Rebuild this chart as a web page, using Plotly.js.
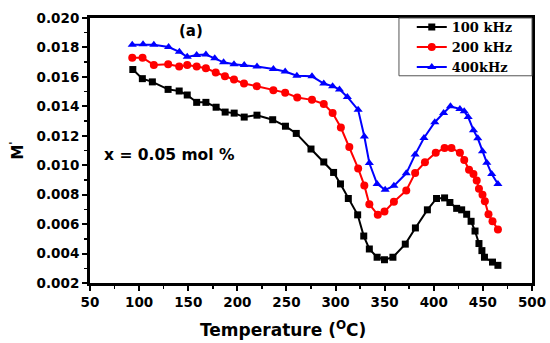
<!DOCTYPE html>
<html>
<head>
<meta charset="utf-8">
<script src="https://cdn.plot.ly/plotly-3.0.1.min.js"></script>
<style>html,body{margin:0;padding:0;background:#fff;}#chart{width:550px;height:343px;}</style>
</head>
<body>
<div id="chart"></div>
<script>
// Temperature (°C) and M' values
const temp100 = [93.6, 103.3, 113.5, 129.5, 140.8, 149, 158.6, 168, 178.4, 187.6, 196.8, 207, 220, 236, 249, 260, 275, 288, 298, 305, 313, 322.5, 328.7, 334.4, 342.3, 349.8, 358.4, 371, 381.3, 393.5, 402.8, 411, 416.4, 423.3, 428.4, 433.5, 438, 442, 446, 449, 451.6, 459.8, 465.3];
const m100 = [0.01650, 0.01588, 0.01566, 0.01515, 0.01504, 0.01477, 0.01427, 0.01427, 0.01394, 0.01361, 0.01354, 0.01327, 0.01340, 0.01309, 0.01265, 0.01216, 0.01110, 0.01022, 0.00951, 0.00873, 0.00774, 0.00663, 0.00519, 0.00431, 0.00375, 0.00358, 0.00375, 0.00464, 0.00574, 0.00697, 0.00774, 0.00778, 0.00747, 0.00707, 0.00697, 0.00667, 0.00619, 0.00553, 0.00468, 0.00420, 0.00375, 0.00342, 0.00320];

const temp200 = [93, 103.5, 115, 129.6, 140.8, 149, 158.6, 168, 178, 187.4, 196.6, 206.8, 219.8, 236.7, 248.7, 261, 276, 288, 297, 305.4, 314, 323, 329.3, 334.4, 343, 349.8, 359.4, 372, 381, 391, 402, 411, 418, 426.6, 431, 435.9, 440.4, 443.7, 446, 449.6, 452, 455.7, 459.8, 465.3];
const m200 = [0.01730, 0.01730, 0.01681, 0.01686, 0.01670, 0.01681, 0.01670, 0.01659, 0.01630, 0.01604, 0.01582, 0.01555, 0.01537, 0.01509, 0.01493, 0.01460, 0.01444, 0.01416, 0.01354, 0.01256, 0.01124, 0.00978, 0.00863, 0.00735, 0.00663, 0.00685, 0.00752, 0.00829, 0.00947, 0.01020, 0.01084, 0.01117, 0.01117, 0.01084, 0.01035, 0.00969, 0.00940, 0.00896, 0.00840, 0.00800, 0.00756, 0.00667, 0.00619, 0.00564];

const temp400 = [93, 104, 115, 130, 141, 149, 158.6, 168, 177, 186, 196.6, 207, 220, 236.7, 248.7, 260.6, 276, 288, 297, 304, 312, 323, 329.3, 334.4, 342.3, 350.5, 359.4, 372, 381, 390, 401, 410, 417, 426.6, 431, 435, 440.4, 444.8, 449.6, 454, 459, 465.3];
const m400 = [0.01819, 0.01821, 0.01819, 0.01803, 0.01770, 0.01736, 0.01748, 0.01752, 0.01726, 0.01699, 0.01686, 0.01681, 0.01670, 0.01653, 0.01637, 0.01608, 0.01604, 0.01555, 0.01537, 0.01515, 0.01464, 0.01376, 0.01195, 0.01015, 0.00873, 0.00833, 0.00860, 0.00945, 0.01072, 0.01185, 0.01292, 0.01355, 0.01400, 0.01382, 0.01367, 0.01327, 0.01238, 0.01183, 0.01095, 0.01017, 0.00940, 0.00873];

const seriesNames = ['100 kHz', '200 kHz', '400kHz'];
const seriesColors = ['#000000', '#ff0000', '#0000ff'];
const seriesSymbols = ['square', 'circle', 'triangle-up'];
const xTicks = [50, 100, 150, 200, 250, 300, 350, 400, 450, 500];
const yTicks = [0.002, 0.004, 0.006, 0.008, 0.010, 0.012, 0.014, 0.016, 0.018, 0.020];

const xs = [temp100, temp200, temp400];
const ys = [m100, m200, m400];
const sizes = [7, 8, 8];

const traces = xs.map((x, i) => ({
  x: x, y: ys[i], name: seriesNames[i], type: 'scatter', mode: 'lines+markers',
  line: {color: seriesColors[i], width: 2},
  marker: {color: seriesColors[i], symbol: seriesSymbols[i], size: sizes[i]}
}));

const SANS = 'DejaVu Sans, Verdana, sans-serif';
const tickFont = {family: SANS, size: 13.5, color: '#000', weight: 'bold'};

const layout = {
  width: 550, height: 343,
  margin: {l: 90, r: 18, t: 12, b: 60},
  paper_bgcolor: '#fff', plot_bgcolor: '#fff',
  showlegend: true,
  legend: {
    x: 0.728, y: 1.022, xanchor: 'left', yanchor: 'top',
    bgcolor: 'rgba(0,0,0,0)', borderwidth: 0,
    font: {family: 'DejaVu Serif, Liberation Serif, serif', size: 13, color: '#000', weight: 'bold'},
    tracegroupgap: 0, itemwidth: 30
  },
  shapes: [
    {type: 'rect', xref: 'paper', yref: 'paper', x0: 0.699, x1: 1, y0: 0.782, y1: 1,
     fillcolor: '#fff', line: {color: '#555', width: 1}, layer: 'above'}
  ],
  xaxis: {
    range: [50, 500], tickvals: xTicks, ticktext: xTicks.map(String),
    showgrid: false, zeroline: false,
    showline: true, linecolor: '#000', linewidth: 3, mirror: true,
    ticks: 'outside', ticklen: 5, tickwidth: 2, tickcolor: '#000',
    minor: {dtick: 25, tick0: 50, ticks: 'outside', ticklen: 3, tickwidth: 1.5, tickcolor: '#000', showgrid: false},
    tickfont: tickFont
  },
  yaxis: {
    range: [0.002, 0.020], tickvals: yTicks, ticktext: yTicks.map(v => v.toFixed(3)),
    showgrid: false, zeroline: false,
    showline: true, linecolor: '#000', linewidth: 3, mirror: true,
    ticks: 'outside', ticklen: 5, tickwidth: 2, tickcolor: '#000',
    minor: {dtick: 0.001, tick0: 0.002, ticks: 'outside', ticklen: 3, tickwidth: 1.5, tickcolor: '#000', showgrid: false},
    tickfont: tickFont,
    title: {text: "M<sup>'</sup>", font: {family: SANS, size: 15, color: '#000', weight: 'bold'}, standoff: 10}
  },
  annotations: [
    {text: 'Temperature (<sup>O</sup>C)', xref: 'paper', yref: 'paper', x: 0.437, y: -0.125, xanchor: 'center', yanchor: 'top', showarrow: false,
     font: {family: SANS, size: 17, color: '#000', weight: 'bold'}},
    {text: '(a)', xref: 'x', yref: 'y', x: 153, y: 0.0191, showarrow: false,
     font: {family: SANS, size: 15, color: '#000', weight: 'bold'}},
    {text: 'x = 0.05 mol %', xref: 'x', yref: 'y', x: 62, y: 0.0107, xanchor: 'left', showarrow: false,
     font: {family: SANS, size: 15.5, color: '#000', weight: 'bold'}}
  ]
};

Plotly.newPlot('chart', traces, layout, {displayModeBar: false, staticPlot: true});
</script>
</body>
</html>
